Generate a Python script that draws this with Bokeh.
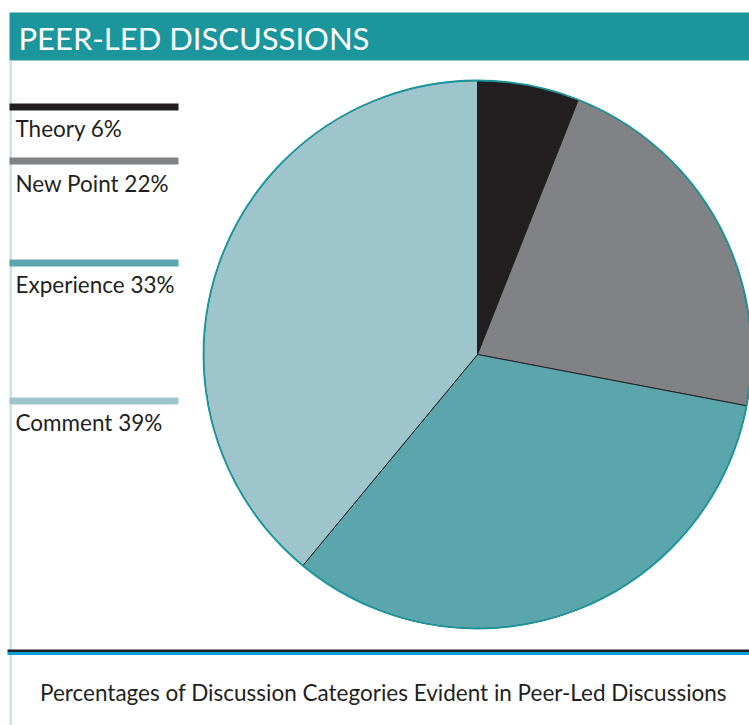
import math
from bokeh.plotting import figure
from bokeh.models import Range1d, ColumnDataSource
from bokeh.core.properties import value
from bokeh.embed import file_html
from bokeh.resources import INLINE

# ---- data ----
categories = ["Theory", "New Point", "Experience", "Comment"]
percents = [6, 22, 33, 39]
colors = ["#231f20", "#808285", "#5ba5ad", "#9fc5cc"]
title_text = "PEER-LED DISCUSSIONS"
caption_text = "Percentages of Discussion Categories Evident in Peer-Led Discussions"

# ---- layout (page pixel helpers) ----
W, H = 749, 725
def X(px):
    return px
def Y(py):
    return H - py

p = figure(width=W, height=H, output_backend="svg", toolbar_location=None,
           x_range=Range1d(0, W), y_range=Range1d(0, H),
           x_axis_location=None, y_axis_location=None, min_border=0)
p.grid.visible = False
p.outline_line_color = None
p.background_fill_color = "white"
p.border_fill_color = "white"

TEAL = "#1a969c"
FONT = value("Lato")

# title bar
p.quad(left=[X(9)], right=[X(760)], top=[Y(12)], bottom=[Y(60)],
       fill_color=TEAL, line_color=None)
p.text(x=[X(18)], y=[Y(37)], text=[title_text], text_color="white",
       text_font=FONT, text_font_size="31px", text_baseline="middle",
       text_align="left")

# left light rule
p.quad(left=[X(9)], right=[X(11.5)], top=[Y(60)], bottom=[Y(730)],
       fill_color="#cde2e6", line_color=None)

# pie
total = sum(percents)
starts, ends, cum = [], [], 0.0
for v in percents:
    a0 = math.pi / 2 - 2 * math.pi * cum / total
    cum += v
    a1 = math.pi / 2 - 2 * math.pi * cum / total
    starts.append(a0)
    ends.append(a1)
src = ColumnDataSource(dict(start=starts, end=ends, color=colors, cat=categories))
cx, cy, r = X(477), Y(354), 274
p.wedge(x=cx, y=cy, radius=r, start_angle="start", end_angle="end",
        direction="clock", fill_color="color", line_color="#231f20",
        line_width=1, source=src)
p.circle(x=[cx], y=[cy], radius=r, fill_color=None, line_color=TEAL,
         line_width=1.8)

# legend entries
bar_y = [106.5, 160.5, 262.5, 400.5]
text_y = [128, 183, 284, 422]
labels = [f"{c} {v}%" for c, v in zip(categories, percents)]
p.quad(left=[X(9)] * 4, right=[X(178)] * 4,
       top=[Y(b - 3.5) for b in bar_y], bottom=[Y(b + 3.5) for b in bar_y],
       fill_color=colors, line_color=None)
p.text(x=[X(15)] * 4, y=[Y(t) for t in text_y], text=labels,
       text_color="#231f20", text_font=FONT, text_font_size="22.5px",
       text_baseline="middle", text_align="left")

# bottom rules
p.quad(left=[X(7)], right=[X(760)], top=[Y(649)], bottom=[Y(651.5)],
       fill_color="#231f20", line_color=None)
p.quad(left=[X(7)], right=[X(760)], top=[Y(651.5)], bottom=[Y(654.5)],
       fill_color="#0aa2d8", line_color=None)

# caption
p.text(x=[X(383)], y=[Y(692)], text=[caption_text], text_color="#231f20",
       text_font=FONT, text_font_size="22.5px", text_baseline="middle",
       text_align="center")

open("out.html", "w").write(file_html(p, INLINE))
